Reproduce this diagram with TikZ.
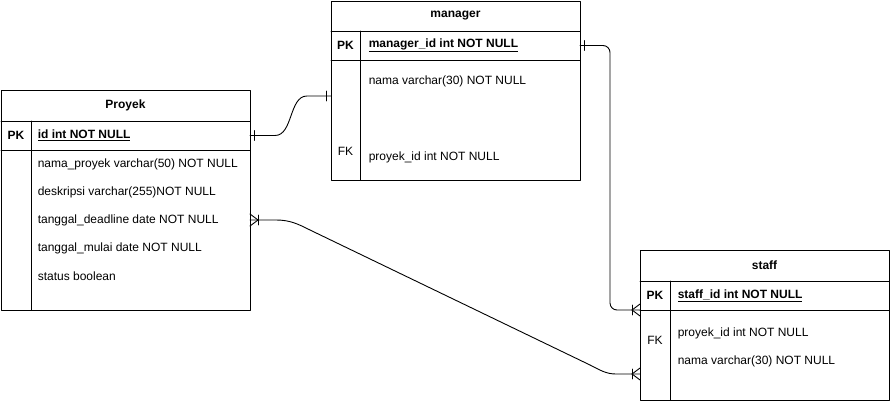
\documentclass[tikz,border=0pt]{standalone}
\usepackage{fontspec}
\setmainfont{Liberation Sans}

\begin{document}
\begin{tikzpicture}[line cap=round,line join=round,x=1pt,y=-1pt,line width=0.9pt,
  every node/.style={font=\fontsize{12}{14}\selectfont},
  title/.style={font=\fontsize{12}{14}\selectfont\bfseries},
  key/.style={font=\fontsize{12}{14}\selectfont\bfseries},
  field/.style={anchor=west}]
\useasboundingbox (0,0) rectangle (891,401);

% Proyek
\draw (1,90) rectangle (250,310);
\draw (1,121)--(250,121);
\draw (1,150)--(250,150);
\draw (31,121)--(31,310);
\node[title] (proyek) at (125.5,105.5) {Proyek};
\node[key] (proyek-pk) at (16,135.5) {PK};
\node[key,field] (proyek-id) at (34,135.5) {\underline{id int NOT NULL}};
\node[field] (proyek-nama) at (34,164) {nama\_proyek varchar(50) NOT NULL};
\node[field] (proyek-desk) at (34,192) {deskripsi varchar(255)NOT NULL};
\node[field] (proyek-dead) at (34,220) {tanggal\_deadline date NOT NULL};
\node[field] (proyek-mulai) at (34,248) {tanggal\_mulai date NOT NULL};
\node[field] (proyek-status) at (34,276) {status boolean};
\coordinate (proyek-idend) at (250,135.5);
\coordinate (proyek-deadend) at (250,220);

% manager
\draw (331,1) rectangle (580,180);
\draw (331,31)--(580,31);
\draw (331,60)--(580,60);
\draw (360,31)--(360,180);
\node[title] (manager) at (455.5,16) {manager};
\node[key] (manager-pk) at (345.5,45.5) {PK};
\node[key,field] (manager-id) at (365,45.5) {\underline{manager\_id int NOT NULL}};
\node[field] (manager-nama) at (365,81) {nama varchar(30) NOT NULL};
\node (manager-fk) at (345.5,151) {FK};
\node[field] (manager-proyek) at (365,157) {proyek\_id int NOT NULL};
\coordinate (manager-side) at (331,96);
\coordinate (manager-pkend) at (580,45.5);

% staff
\draw (640,250) rectangle (889,400);
\draw (640,281)--(889,281);
\draw (640,310)--(889,310);
\draw (670,281)--(670,400);
\node[title] (staff) at (764.5,265.5) {staff};
\node[key] (staff-pk) at (655,295.5) {PK};
\node[key,field] (staff-id) at (674,295.5) {\underline{staff\_id int NOT NULL}};
\node (staff-fk) at (655,340) {FK};
\node[field] (staff-proyek) at (674,333) {proyek\_id int NOT NULL};
\node[field] (staff-nama) at (674,361) {nama varchar(30) NOT NULL};
\coordinate (staff-pkend) at (640,310);
\coordinate (staff-fkend) at (640,374);

% Proyek - manager
\draw (proyek-idend) -- ++(25,0) .. controls +(18,0) and +(-18,0) .. ([xshift=-24pt]manager-side) -- (manager-side);
\draw ([xshift=4pt]proyek-idend) ++(0,-5) -- ++(0,10);
\draw ([xshift=-5pt]manager-side) ++(0,-5) -- ++(0,10);

% manager - staff
\draw[rounded corners=7pt] (manager-pkend) -| ([xshift=-30pt]staff-pkend) -- (staff-pkend);
\draw ([xshift=4pt]manager-pkend) ++(0,-5) -- ++(0,10);
\draw ([xshift=-8pt]staff-pkend) ++(0,-5) -- ++(0,10);
\draw ([xshift=-8pt]staff-pkend) -- ++(8,-6);
\draw ([xshift=-8pt]staff-pkend) -- ++(8,6);

% Proyek - staff
\draw (proyek-deadend) -- (276,220) .. controls (290,220) and (298,224) .. (310,230) -- (590,365) .. controls (600,370) and (606,374) .. (616,374) -- (staff-fkend);
\draw ([xshift=8pt]proyek-deadend) ++(0,-5) -- ++(0,10);
\draw ([xshift=8pt]proyek-deadend) -- ++(-8,-6);
\draw ([xshift=8pt]proyek-deadend) -- ++(-8,6);
\draw ([xshift=-8pt]staff-fkend) ++(0,-5) -- ++(0,10);
\draw ([xshift=-8pt]staff-fkend) -- ++(8,-6);
\draw ([xshift=-8pt]staff-fkend) -- ++(8,6);
\end{tikzpicture}
\end{document}
